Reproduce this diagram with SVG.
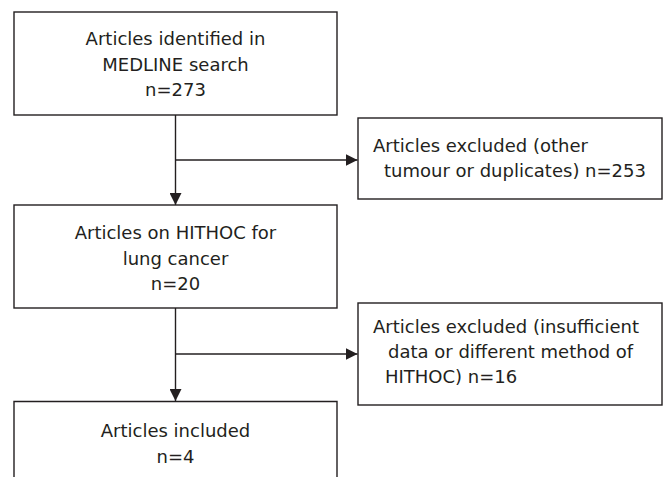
<svg xmlns="http://www.w3.org/2000/svg" width="670" height="477" viewBox="0 0 670 477">
<defs>
<style>
.box{fill:#fff;stroke:#231f20;stroke-width:1.4}
.t{font-family:"DejaVu Sans","Liberation Sans",sans-serif;font-size:18px;fill:#231f20}
.c{text-anchor:middle}
.ln{fill:none;stroke:#231f20;stroke-width:1.4}
</style>
<marker id="ah" markerWidth="12" markerHeight="12" refX="12" refY="6" orient="auto" markerUnits="userSpaceOnUse">
<path d="M0,0 L12,6 L0,12 Z" fill="#231f20"/>
</marker>
</defs>
<rect width="670" height="477" fill="#fff"/>
<g id="connectors">
<line class="ln" x1="175.5" y1="115" x2="175.5" y2="205" marker-end="url(#ah)"/>
<line class="ln" x1="175.5" y1="160" x2="357.5" y2="160" marker-end="url(#ah)"/>
<line class="ln" x1="175.5" y1="308" x2="175.5" y2="401" marker-end="url(#ah)"/>
<line class="ln" x1="175.5" y1="354" x2="357.5" y2="354" marker-end="url(#ah)"/>
</g>
<g id="n1">
<rect class="box" x="14" y="12" width="323" height="103"/>
<text class="t c" x="175.5" y="45">Articles identified in</text>
<text class="t c" x="175.5" y="70.5">MEDLINE search</text>
<text class="t c" x="175.5" y="96">n=273</text>
</g>
<g id="n2">
<rect class="box" x="358" y="118" width="304" height="81"/>
<text class="t" x="373" y="152">Articles excluded (other</text>
<text class="t" x="384" y="177">tumour or duplicates) n=253</text>
</g>
<g id="n3">
<rect class="box" x="14" y="205" width="323" height="103"/>
<text class="t c" x="175.5" y="239">Articles on HITHOC for</text>
<text class="t c" x="175.5" y="264.5">lung cancer</text>
<text class="t c" x="175.5" y="290">n=20</text>
</g>
<g id="n4">
<rect class="box" x="358" y="303" width="304" height="102"/>
<text class="t" x="373" y="333">Articles excluded (insufficient</text>
<text class="t" x="388" y="358">data or different method of</text>
<text class="t" x="385" y="383">HITHOC) n=16</text>
</g>
<g id="n5">
<path class="ln" d="M14,477 V401.5 H337 V477"/>
<text class="t c" x="175.5" y="437">Articles included</text>
<text class="t c" x="175.5" y="463">n=4</text>
</g>
</svg>
